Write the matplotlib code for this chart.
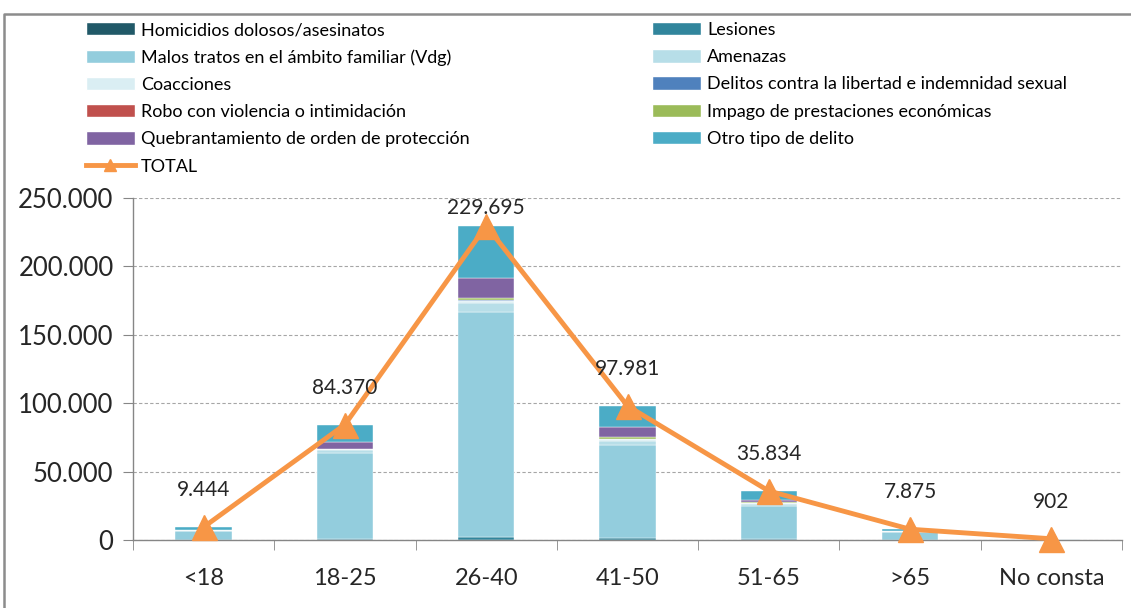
import numpy as np
import matplotlib
matplotlib.use('Agg')
import matplotlib.pyplot as plt
from matplotlib.lines import Line2D
from matplotlib.patches import Patch

plt.rcParams['font.family'] = ['Lato', 'DejaVu Sans']

# Datos
edades = ['<18', '18-25', '26-40', '41-50', '51-65', '>65', 'No consta']
series = [
    'Homicidios dolosos/asesinatos',
    'Lesiones',
    'Malos tratos en el ámbito familiar (Vdg)',
    'Amenazas',
    'Coacciones',
    'Delitos contra la libertad e indemnidad sexual',
    'Robo con violencia o intimidación',
    'Impago de prestaciones económicas',
    'Quebrantamiento de orden de protección',
    'Otro tipo de delito',
]
homicidios = [5, 20, 50, 30, 15, 10, 2]
lesiones = [300, 800, 2500, 1200, 500, 150, 30]
malos_tratos = [6300, 62500, 164000, 68000, 24500, 5500, 500]
amenazas = [300, 2600, 7000, 3500, 1500, 500, 40]
coacciones = [100, 600, 1500, 800, 350, 100, 10]
delitos_sexuales = [150, 150, 300, 150, 50, 10, 10]
robo = [50, 100, 200, 80, 30, 10, 5]
impago = [20, 100, 1000, 1500, 600, 20, 5]
quebrantamiento = [300, 4500, 15000, 7000, 1800, 300, 50]
otro = [1919, 13000, 38145, 15721, 6489, 1275, 250]
total = [9444, 84370, 229695, 97981, 35834, 7875, 902]

valores = [homicidios, lesiones, malos_tratos, amenazas, coacciones,
           delitos_sexuales, robo, impago, quebrantamiento, otro]
colores = ['#215968', '#31859C', '#93CDDD', '#B7DEE8', '#DAEEF3',
           '#4F81BD', '#C0504D', '#9BBB59', '#8064A2', '#4BACC6']
naranja = '#F79646'
gris = '#868686'

W, H = 1131, 608
fig = plt.figure(figsize=(W / 100, H / 100), dpi=100)
ax = fig.add_axes([133 / W, 1 - 540 / H, (1122 - 133) / W, (540 - 198) / H])

x = np.arange(len(edades))
base = np.zeros(len(edades))
for nombre, vals, c in zip(series, valores, colores):
    ax.bar(x, vals, 0.4, bottom=base, color=c, edgecolor='white', linewidth=0.3, zorder=2)
    base += np.array(vals)

ax.plot(x, total, color=naranja, linewidth=3.5, marker='^', markersize=18,
        zorder=4, clip_on=False)

def fmt(v):
    return f'{v:,}'.replace(',', '.')

for xi, v in zip(x, total):
    ax.text(xi, min(v + 27000, 243000), fmt(v), ha='center', va='center',
            fontsize=15, color='#262626', zorder=5)

ax.set_xlim(-0.5, len(edades) - 0.5)
ax.set_ylim(0, 250000)
ax.set_yticks(np.arange(0, 250001, 50000))
ax.set_yticklabels([fmt(v) for v in range(0, 250001, 50000)], fontsize=18.5, color='#262626')
ax.set_xticks(x)
ax.set_xticklabels(edades, fontsize=17, color='#262626')
ax.set_xticks(np.arange(-0.5, len(edades)), minor=True)
ax.tick_params(axis='x', which='major', length=0, pad=20)
ax.tick_params(axis='x', which='minor', length=7, color=gris, direction='out')
ax.tick_params(axis='y', length=7, color=gris, direction='out', pad=7)
ax.grid(axis='y', linestyle=(0, (3, 2)), color='#A6A6A6', linewidth=0.8, zorder=0)
for s in ['top', 'right']:
    ax.spines[s].set_visible(False)
for s in ['left', 'bottom']:
    ax.spines[s].set_color(gris)
    ax.spines[s].set_linewidth(1)

# Leyenda en dos columnas
izq = [0, 2, 4, 6, 8]
der = [1, 3, 5, 7, 9]
h_izq = [Patch(facecolor=colores[i], edgecolor='white') for i in izq]
h_izq.append(Line2D([], [], color=naranja, linewidth=3.5, marker='^', markersize=9))
l_izq = [series[i] for i in izq] + ['TOTAL']
h_der = [Patch(facecolor=colores[i], edgecolor='white') for i in der]
l_der = [series[i] for i in der]

kw = dict(loc='upper left', frameon=False, fontsize=13, handlelength=2.7,
          handleheight=0.75, handletextpad=0.35, labelspacing=0.62,
          borderpad=0, borderaxespad=0)
fig.legend(h_izq, l_izq, bbox_to_anchor=(86 / W, 1 - 22 / H), **kw)
fig.legend(h_der, l_der, bbox_to_anchor=(652 / W, 1 - 22 / H), **kw)

# Marco del gráfico
fig.add_artist(Line2D([4 / W, 4 / W, 1], [0, 1 - 14 / H, 1 - 14 / H],
                      transform=fig.transFigure, color='#8C8C8C', linewidth=1.8))

fig.savefig('out.png', dpi=100)
